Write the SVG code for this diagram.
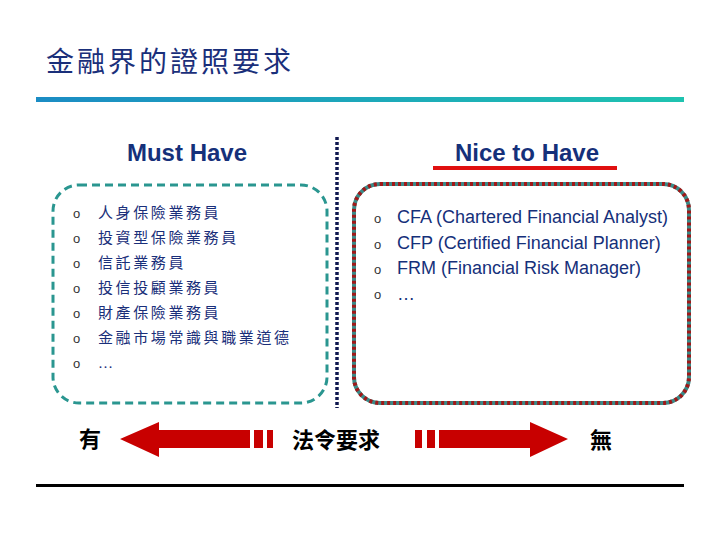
<svg xmlns="http://www.w3.org/2000/svg" width="720" height="540" viewBox="0 0 720 540">
<defs>
<linearGradient id="g" x1="0" x2="1" y1="0" y2="0">
<stop offset="0" stop-color="#1b8cc4"/>
<stop offset="1" stop-color="#1fc3b0"/>
</linearGradient>
<style>
.cjk{font-family:"Liberation Serif","Noto Sans CJK TC",serif;fill:#1a2f7a;font-size:15px;letter-spacing:2.6px}
.bul{font-family:"Liberation Sans",sans-serif;fill:#333;font-size:13px}
.en{font-family:"Liberation Sans",Arial,sans-serif;fill:#15307a;font-size:18px}
.hd{font-family:"Liberation Sans",Arial,sans-serif;fill:#15307a;font-size:24px;font-weight:bold;text-anchor:middle}
.bk{font-family:"Liberation Serif","Noto Sans CJK TC",serif;fill:#000;font-size:22px;font-weight:bold}
.red{fill:#c80000}
</style>
</defs>
<rect width="720" height="540" fill="#fff"/>
<g id="title">
<text x="46" y="72" font-family="Liberation Serif,'Noto Sans CJK TC',serif" font-size="28" fill="#1a2f7a" letter-spacing="3">金融界的證照要求</text>
<rect x="36" y="97" width="648" height="5" fill="url(#g)"/>
</g>
<g id="divider">
<line x1="337" y1="137" x2="337" y2="408" stroke="#101850" stroke-width="3.5" stroke-dasharray="3,2"/>
</g>
<g id="must-have">
<text class="hd" x="187" y="161">Must Have</text>
<rect x="53" y="185" width="274" height="218" rx="26" fill="none" stroke="#2a9690" stroke-width="3" stroke-dasharray="8,5"/>
<g class="bul">
<text x="73" y="218">o</text><text x="73" y="243">o</text><text x="73" y="268">o</text><text x="73" y="293">o</text><text x="73" y="318">o</text><text x="73" y="343">o</text><text x="73" y="368">o</text>
</g>
<text class="cjk" x="98" y="218">人身保險業務員</text>
<text class="cjk" x="98" y="243">投資型保險業務員</text>
<text class="cjk" x="98" y="268">信託業務員</text>
<text class="cjk" x="98" y="293">投信投顧業務員</text>
<text class="cjk" x="98" y="318">財產保險業務員</text>
<text class="cjk" x="98" y="343">金融市場常識與職業道德</text>
<text class="cjk" x="98" y="368">…</text>
</g>
<g id="nice-to-have">
<text class="hd" x="527" y="161">Nice to Have</text>
<rect x="433" y="166" width="184" height="4" fill="#e01010"/>
<rect x="354" y="184" width="335" height="219" rx="26" fill="none" stroke="#3a8a88" stroke-width="4"/>
<rect x="354" y="184" width="335" height="219" rx="26" fill="none" stroke="#a01818" stroke-width="4" stroke-dasharray="3,3"/>
<g class="bul">
<text x="374" y="223">o</text><text x="374" y="249">o</text><text x="374" y="274">o</text><text x="374" y="299">o</text>
</g>
<text class="en" x="397" y="223">CFA (Chartered Financial Analyst)</text>
<text class="en" x="397" y="249">CFP (Certified Financial Planner)</text>
<text class="en" x="397" y="274">FRM (Financial Risk Manager)</text>
<text class="en" x="397" y="300">…</text>
</g>
<g id="scale">
<text class="bk" x="79" y="447">有</text>
<polygon class="red" points="120,439 159,422 159,430 250,430 250,448 159,448 159,457"/>
<rect class="red" x="254" y="430" width="9" height="18"/>
<rect class="red" x="267" y="430" width="6" height="18"/>
<text class="bk" x="292" y="448" font-size="23">法令要求</text>
<rect class="red" x="415" y="430" width="7" height="18"/>
<rect class="red" x="427" y="430" width="8" height="18"/>
<polygon class="red" points="439,430 530,430 530,422 568,439 530,457 530,448 439,448"/>
<text class="bk" x="590" y="448">無</text>
</g>
<g id="footer">
<rect x="36" y="484" width="648" height="3" fill="#000"/>
</g>
</svg>
